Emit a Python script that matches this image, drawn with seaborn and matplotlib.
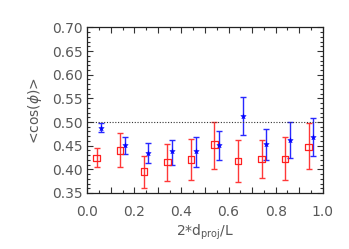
import numpy as np
import pandas as pd
import matplotlib
matplotlib.use("Agg")
import matplotlib.pyplot as plt
import seaborn as sns
from matplotlib.ticker import MultipleLocator, FuncFormatter

# data
red_x = [0.04, 0.14, 0.24, 0.34, 0.44, 0.54, 0.64, 0.74, 0.84, 0.94]
red_y = [0.424, 0.440, 0.395, 0.415, 0.421, 0.452, 0.418, 0.422, 0.422, 0.447]
red_lo = [0.404, 0.405, 0.361, 0.375, 0.378, 0.401, 0.373, 0.382, 0.377, 0.401]
red_hi = [0.446, 0.476, 0.429, 0.454, 0.464, 0.500, 0.463, 0.463, 0.468, 0.497]

blue_x = [0.06, 0.16, 0.26, 0.36, 0.46, 0.56, 0.66, 0.76, 0.86, 0.96]
blue_y = [0.487, 0.451, 0.435, 0.438, 0.438, 0.451, 0.512, 0.453, 0.462, 0.468]
blue_lo = [0.478, 0.432, 0.414, 0.410, 0.405, 0.420, 0.472, 0.420, 0.424, 0.428]
blue_hi = [0.497, 0.469, 0.455, 0.463, 0.469, 0.482, 0.552, 0.485, 0.500, 0.508]

red = pd.DataFrame({'x': red_x, 'y': red_y, 'lo': red_lo, 'hi': red_hi})
blue = pd.DataFrame({'x': blue_x, 'y': blue_y, 'lo': blue_lo, 'hi': blue_hi})

sns.set_style("ticks")
plt.rcParams['font.family'] = ['DejaVu Sans']
grey = '#585858'

fig = plt.figure(figsize=(3.49, 2.49), dpi=100)
ax = fig.add_axes([0.25, 0.225, 0.675, 0.665])

# error bars
ax.errorbar(red['x'], red['y'], yerr=[red['y'] - red['lo'], red['hi'] - red['y']],
            fmt='none', ecolor='#ff3838', elinewidth=1.0, capsize=2, capthick=1.0)
ax.errorbar(blue['x'], blue['y'], yerr=[blue['y'] - blue['lo'], blue['hi'] - blue['y']],
            fmt='none', ecolor='#2828ff', elinewidth=1.0, capsize=2, capthick=1.0)

sns.scatterplot(data=red, x='x', y='y', ax=ax, marker='s', s=22,
                facecolor='none', edgecolor='#ff2020', linewidth=0.9, zorder=3)
sns.scatterplot(data=blue, x='x', y='y', ax=ax, marker='*', s=16,
                color='#0000ff', edgecolor='#0000ff', linewidth=0.4, zorder=3)

ax.axhline(0.5, color='#333333', linestyle=(0, (1, 1.5)), linewidth=0.8)

ax.set_xlim(0, 1)
ax.set_ylim(0.35, 0.70)
ax.xaxis.set_major_locator(MultipleLocator(0.1))
ax.xaxis.set_minor_locator(MultipleLocator(0.05))
ax.xaxis.set_major_formatter(FuncFormatter(
    lambda v, p: f'{v:.1f}' if round(v * 10) % 2 == 0 else ''))
ax.yaxis.set_major_locator(MultipleLocator(0.05))
ax.yaxis.set_minor_locator(MultipleLocator(0.01))
ax.yaxis.set_major_formatter(FuncFormatter(lambda v, p: f'{v:.2f}'))

ax.tick_params(which='both', direction='in', top=True, right=True,
               colors='#333333', labelcolor=grey, labelsize=10, width=0.8)
ax.tick_params(which='major', length=4)
ax.tick_params(which='minor', length=2)
ax.tick_params(axis='x', pad=9)
ax.tick_params(axis='y', pad=3)
for s in ax.spines.values():
    s.set_color('#222222')
    s.set_linewidth(0.9)

ax.set_xlabel(r'2*d$_{\rm proj}$/L', color=grey, fontsize=10, labelpad=2)
ax.set_ylabel(r'<cos($\phi$)>', color=grey, fontsize=10, labelpad=6)

plt.savefig('out.png', dpi=100)
